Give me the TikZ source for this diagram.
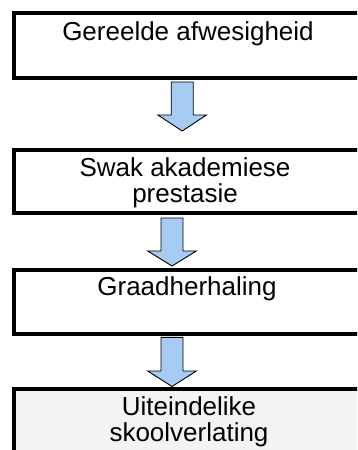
\documentclass[tikz,border=0pt]{standalone}
\usepackage{fontspec}
\setmainfont{Liberation Sans}
\definecolor{arrowblue}{RGB}{166,204,244}
\definecolor{lastfill}{RGB}{243,243,243}
\newcommand\blkarrow[4]{%
  \draw[blockarrow] (#1-11,#2) -- (#1+11,#2) -- (#1+11,#3) -- (#1+24.3,#3)
    -- (#1,#4) -- (#1-24.3,#3) -- (#1-11,#3) -- cycle;}
\begin{document}
\begin{tikzpicture}[x=1pt,y=-1pt,
  box/.style={draw=black, line width=3.6pt, outer sep=0pt, inner sep=0pt,
    anchor=north west, minimum width=348pt, fill=white},
  lbl/.style={font=\fontsize{26}{26.5}\selectfont, align=center, inner sep=0pt,
    anchor=base, text=black},
  blockarrow/.style={draw=black, line width=0.9pt, fill=arrowblue, line join=miter}]
\useasboundingbox (0,0) rectangle (357,450);
\clip (0,0) rectangle (357,450);
\fill[white] (0,0) rectangle (357,450);
% boxes
\node[box, minimum height=65pt] (b1) at (14,13) {};
\node[box, minimum height=63.3pt] (b2) at (14,149.7) {};
\node[box, minimum height=64pt] (b3) at (14,269.7) {};
\node[box, minimum height=64pt, fill=lastfill] (b4) at (14,388.7) {};
% texts (base anchor = last line's baseline)
\node[lbl] (t1) at (188,40) {Gereelde afwesigheid};
\node[lbl] (t2) at (185,202.5) {Swak akademiese\\prestasie};
\node[lbl] (t3) at (187,295) {Graadherhaling};
\node[lbl] (t4) at (189,441.5) {Uiteindelike\\skoolverlating};
% arrows
\blkarrow{182.2}{82}{115}{131}
\blkarrow{172}{218}{251}{266}
\blkarrow{172}{337.3}{371}{386.5}
\end{tikzpicture}
\end{document}
